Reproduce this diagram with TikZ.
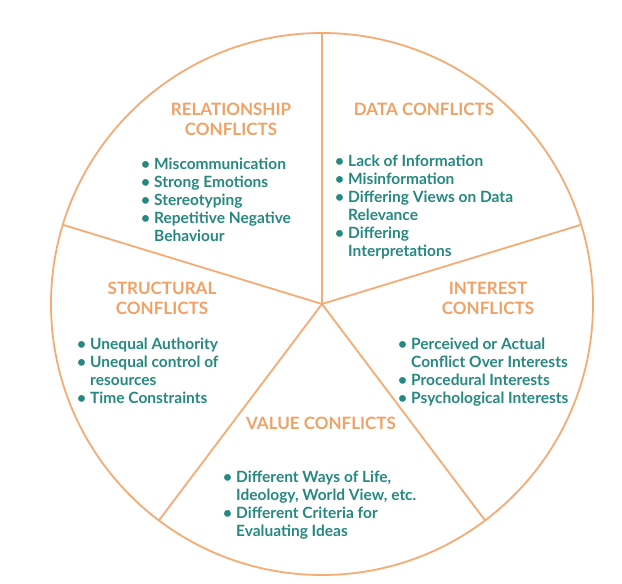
\documentclass[tikz,border=0pt]{standalone}
\usepackage{fontspec}
\setmainfont{Lato}
\usetikzlibrary{calc}
\definecolor{wheelorange}{RGB}{244,172,116}
\definecolor{headorange}{RGB}{240,162,102}
\definecolor{itemteal}{RGB}{38,136,128}
\tikzset{
  wheel/.style={draw=wheelorange,line width=1.8},
  head/.style={font=\fontsize{17}{20}\selectfont\bfseries,text=headorange,align=center,inner sep=0,anchor=base},
  items/.style={font=\fontsize{15.5}{18}\selectfont\bfseries,text=itemteal,inner sep=0,anchor=base west}
}
\newcommand{\itemlist}[1]{\begin{tabular}[t]{@{}p{13pt}@{}l@{}}#1\end{tabular}}
\begin{document}
\begin{tikzpicture}[x=1pt,y=-1pt]
\useasboundingbox[fill=white](0,0)rectangle(622,584);
%wheel
\coordinate(hub)at(322,304);
\draw[wheel](hub)circle[radius=271pt];
%spokes
\foreach \a [count=\i] in {90,163,233,307,17}{
\coordinate(rim\i)at($(hub)+(\a:271pt)$);
\draw[wheel](hub)--(rim\i);
}
%relationship (base = last line)
\node[head](relhead)at(231,135){RELATIONSHIP\\CONFLICTS};
\node[items](relitems)at(141,169){\itemlist{%
\textbullet&Miscommunication\\
\textbullet&Strong Emotions\\
\textbullet&Stereotyping\\
\textbullet&Repetitive Negative\\
&Behaviour}};
%data
\node[head](datahead)at(424,115){DATA CONFLICTS};
\node[items](dataitems)at(335,166){\itemlist{%
\textbullet&Lack of Information\\
\textbullet&Misinformation\\
\textbullet&Differing Views on Data\\
&Relevance\\
\textbullet&Differing\\
&Interpretations}};
%structural
\node[head](strhead)at(162,314){STRUCTURAL\\CONFLICTS};
\node[items](stritems)at(77,349){\itemlist{%
\textbullet&Unequal Authority\\
\textbullet&Unequal control of\\
&resources\\
\textbullet&Time Constraints}};
%interest
\node[head](inthead)at(488,314){INTEREST\\CONFLICTS};
\node[items](intitems)at(398,349){\itemlist{%
\textbullet&Perceived or Actual\\
&Conflict Over Interests\\
\textbullet&Procedural Interests\\
\textbullet&Psychological Interests}};
%value
\node[head](valhead)at(321,429){VALUE CONFLICTS};
\node[items](valitems)at(223,482){\itemlist{%
\textbullet&Different Ways of Life,\\
&Ideology, World View, etc.\\
\textbullet&Different Criteria for\\
&Evaluating Ideas}};
\end{tikzpicture}
\end{document}
